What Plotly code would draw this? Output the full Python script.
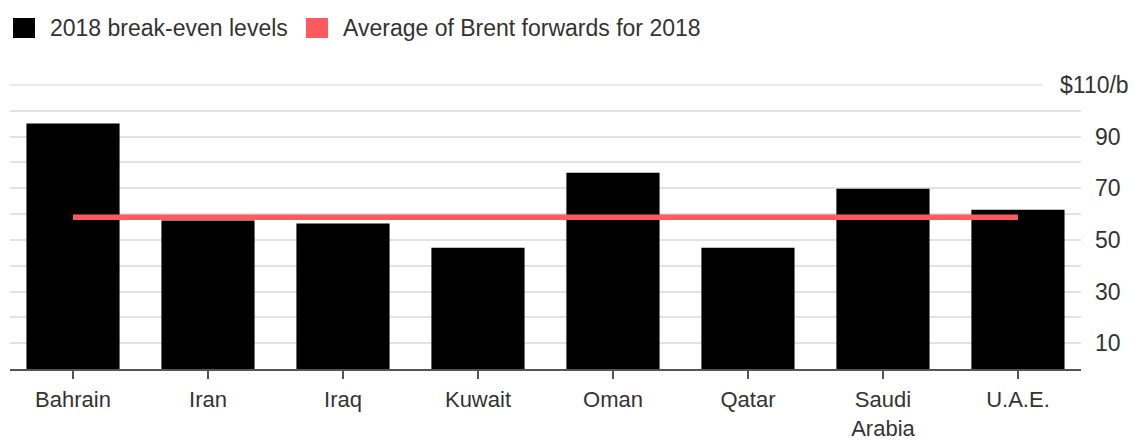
import plotly.graph_objects as go

categories = ["Bahrain", "Iran", "Iraq", "Kuwait", "Oman", "Qatar", "Saudi<br>Arabia", "U.A.E."]
breakeven_2018 = [95.1, 57.5, 56.3, 46.9, 76.0, 46.9, 69.8, 61.7]
brent_avg_2018 = 58.8

series_names = ["2018 break-even levels", "Average of Brent forwards for 2018"]
series_colors = ["#000000", "#ff5a5f"]

grid_vals = [10, 20, 30, 40, 50, 60, 70, 80, 90, 100]
ylabel_vals = [10, 30, 50, 70, 90]
ylabel_text = ["10", "30", "50", "70", "90"]
top_val = 110
top_text = "$110/b"

FONT = "Liberation Sans, Arial, Helvetica, sans-serif"
TXT = "#333333"

fig = go.Figure()
fig.add_trace(go.Bar(
    x=categories, y=breakeven_2018, marker=dict(color=series_colors[0], line=dict(width=0)),
    width=0.69, showlegend=False, hoverinfo="x+y", name=series_names[0]))
fig.add_trace(go.Scatter(
    x=[categories[0], categories[-1]], y=[brent_avg_2018, brent_avg_2018], mode="lines",
    line=dict(color=series_colors[1], width=5.5), showlegend=False, name=series_names[1]))

shapes = []
annotations = []
# top gridline shorter to make room for label
shapes.append(dict(type="line", xref="paper", yref="y", x0=0, x1=0.9645, y0=top_val, y1=top_val,
                   line=dict(color="#e3e3e3", width=1.5), layer="below"))
for v, t in zip(ylabel_vals, ylabel_text):
    annotations.append(dict(xref="paper", yref="y", x=1, y=v, text=t, xanchor="left", yanchor="middle",
                            xshift=12, showarrow=False, font=dict(size=23, color=TXT, family=FONT)))
annotations.append(dict(xref="paper", yref="y", x=1, y=top_val, text=top_text, xanchor="right",
                        yanchor="middle", xshift=50, showarrow=False,
                        font=dict(size=23, color=TXT, family=FONT)))

# manual legend
leg_x = [13, 306]
for i, (name, col) in enumerate(zip(series_names, series_colors)):
    x0 = leg_x[i]
    shapes.append(dict(type="rect", xref="paper", yref="paper", xsizemode="pixel", ysizemode="pixel",
                       xanchor=0, yanchor=1, x0=x0 - 10, x1=x0 - 10 + 22, y0=80 - 18, y1=80 - 38,
                       fillcolor=col, line=dict(width=0)))
    annotations.append(dict(xref="paper", yref="paper", x=0, y=1, xshift=x0 - 10 + 35, yshift=80 - 28,
                            text=name, xanchor="left", yanchor="middle", showarrow=False,
                            font=dict(size=23, color=TXT, family=FONT)))

fig.update_layout(
    width=1133, height=440,
    margin=dict(l=10, r=52, t=80, b=71, autoexpand=False),
    paper_bgcolor="white", plot_bgcolor="white",
    shapes=shapes, annotations=annotations,
    bargap=0.31,
    xaxis=dict(range=[-0.4667, 7.467], showline=True, linecolor="#555555", linewidth=2,
               ticks="outside", ticklen=8, tickwidth=1.5, tickcolor="#555555",
               tickfont=dict(size=22, color=TXT, family=FONT), showgrid=False, zeroline=False,
               fixedrange=True, automargin=False, ticklabelstandoff=2),
    yaxis=dict(range=[0, 111.9], tickvals=grid_vals, showticklabels=False, showgrid=True,
               gridcolor="#e3e3e3", gridwidth=1.5, zeroline=False, showline=False, ticks="",
               fixedrange=True, automargin=False),
    showlegend=False,
)

fig.write_html("out.html")
